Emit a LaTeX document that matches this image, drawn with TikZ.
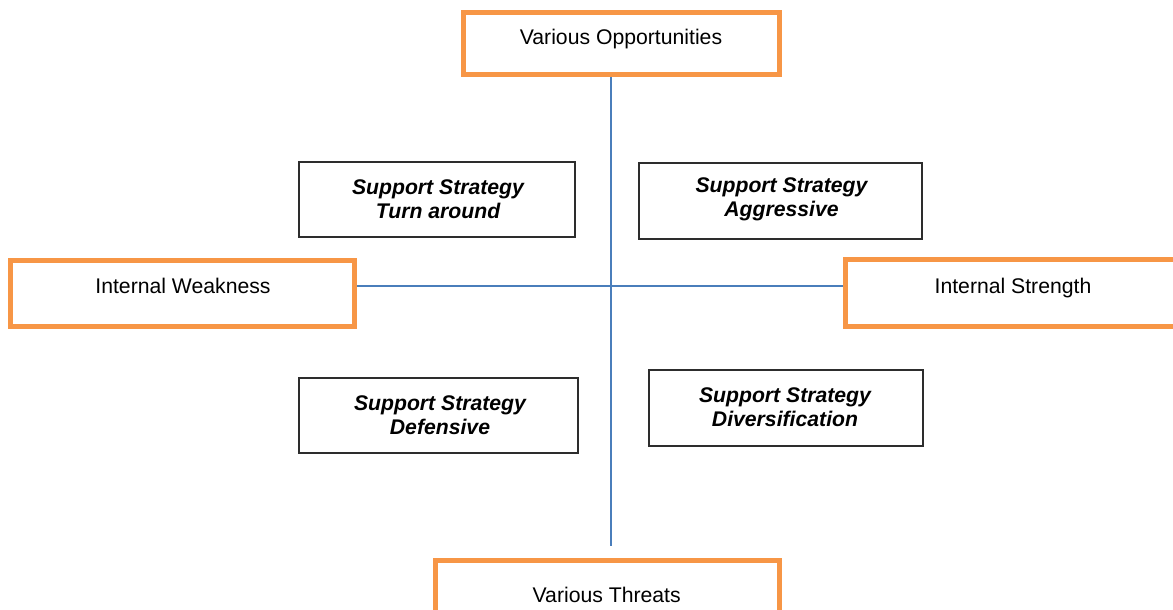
\documentclass[tikz,border=0pt]{standalone}
\usepackage{fontspec}
\setmainfont{Liberation Sans}
\definecolor{quadorange}{RGB}{247,150,70}
\definecolor{axisblue}{RGB}{74,126,187}
\definecolor{boxgray}{RGB}{45,45,45}
\begin{document}
\begin{tikzpicture}[x=1pt,y=-1pt,
  outerbox/.style={draw=quadorange, line width=5pt, rectangle, inner sep=0pt, fill=white},
  stratbox/.style={draw=boxgray, line width=1.3pt, rectangle, inner sep=0pt},
  plainlabel/.style={font=\fontsize{21.2}{24}\selectfont, inner sep=0pt, anchor=base},
  stratlabel/.style={font=\fontsize{21.2}{24}\selectfont\bfseries\itshape, align=center, inner sep=0pt, anchor=north},
  axisline/.style={draw=axisblue, line width=1.8pt}]
\useasboundingbox (0,0) rectangle (1173,610);
\clip (0,0) rectangle (1173,610);

% the four position boxes
\node[outerbox, minimum width=316pt, minimum height=62pt] (opp)  at (621.5,43.5) {};
\node[outerbox, minimum width=344pt, minimum height=66pt] (weak) at (182.5,293.5) {};
\node[outerbox, minimum width=335pt, minimum height=67pt] (str)  at (1013,293) {};
\node[outerbox, minimum width=344pt, minimum height=62pt] (thr)  at (607.5,591.5) {};

\node[plainlabel] (oppT)  at (621,45)     {Various Opportunities};
\node[plainlabel] (weakT) at (183,293.3)  {Internal Weakness};
\node[plainlabel] (strT)  at (1013,293)   {Internal Strength};
\node[plainlabel] (thrT)  at (606.7,602.7) {Various Threats};

% the four strategy boxes
\node[stratbox, minimum width=276pt, minimum height=75pt] (tl) at (437,199.5) {};
\node[stratbox, minimum width=283pt, minimum height=76pt] (tr) at (780.5,201) {};
\node[stratbox, minimum width=279pt, minimum height=75pt] (bl) at (438.5,415.5) {};
\node[stratbox, minimum width=274pt, minimum height=76pt] (br) at (786,408) {};

\node[stratlabel] (tlT) at (438,179.4)   {Support Strategy\\Turn around};
\node[stratlabel] (trT) at (781.5,177.1) {Support Strategy\\Aggressive};
\node[stratlabel] (blT) at (440,395.4)   {Support Strategy\\Defensive};
\node[stratlabel] (brT) at (785,387.1)   {Support Strategy\\Diversification};

% axes
\coordinate (cross) at (611,286);
\coordinate (axisend) at (611,546);
\draw[axisline] (opp.south -| cross) -- (axisend);
\draw[axisline] (weak.east |- cross) -- (str.west |- cross);
\end{tikzpicture}
\end{document}
